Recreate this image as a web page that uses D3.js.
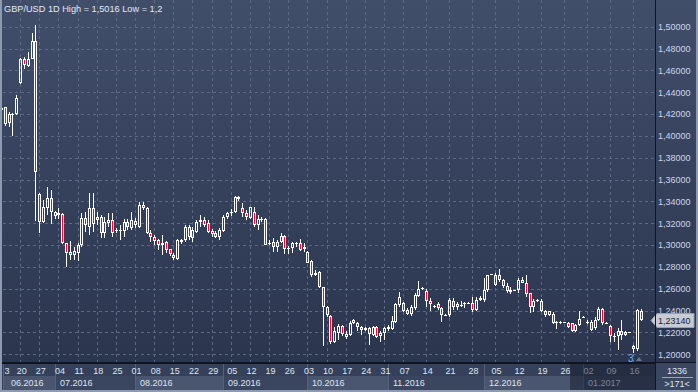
<!DOCTYPE html>
<html>
<head>
<meta charset="utf-8">
<script src="https://cdn.jsdelivr.net/npm/d3@7"></script>
<style>
  html, body { margin: 0; padding: 0; background: #2c3650; }
  svg { display: block; font-family: "Liberation Sans", Arial, sans-serif; }
</style>
</head>
<body>
<script>
// daily GBP/USD candles, [open, high, low, close]
const candles = [
  [1.4235, 1.4265, 1.4225, 1.4258], [1.4262, 1.4268, 1.4091, 1.4109], [1.4116, 1.4222, 1.4085, 1.4198],
  [1.4200, 1.4210, 1.4002, 1.4190], [1.4198, 1.4378, 1.4190, 1.4350], [1.4482, 1.4710, 1.4473, 1.4702],
  [1.4702, 1.4720, 1.4610, 1.4649], [1.4643, 1.4766, 1.4634, 1.4702], [1.4702, 1.4940, 1.4700, 1.4872],
  [1.4872, 1.5016, 1.3224, 1.3673], [1.3469, 1.3475, 1.3115, 1.3216], [1.3216, 1.3414, 1.3201, 1.3347],
  [1.3338, 1.3530, 1.3277, 1.3429], [1.3429, 1.3505, 1.3194, 1.3307], [1.3307, 1.3310, 1.3237, 1.3267],
  [1.3280, 1.3338, 1.3237, 1.3292], [1.3286, 1.3292, 1.3010, 1.3017], [1.3017, 1.3020, 1.2798, 1.2932],
  [1.2941, 1.3042, 1.2865, 1.2907], [1.2907, 1.2987, 1.2865, 1.2950], [1.2932, 1.3017, 1.2850, 1.3002],
  [1.3002, 1.3292, 1.2987, 1.3246], [1.3246, 1.3307, 1.3124, 1.3185], [1.3170, 1.3475, 1.3094, 1.3338],
  [1.3338, 1.3475, 1.3124, 1.3194], [1.3234, 1.3307, 1.3185, 1.3255], [1.3261, 1.3276, 1.3063, 1.3108],
  [1.3108, 1.3261, 1.3063, 1.3215], [1.3206, 1.3291, 1.3170, 1.3230], [1.3230, 1.3291, 1.3078, 1.3108],
  [1.3130, 1.3154, 1.3108, 1.3135], [1.3130, 1.3185, 1.3047, 1.3139], [1.3130, 1.3237, 1.3078, 1.3215],
  [1.3215, 1.3237, 1.3139, 1.3170], [1.3154, 1.3307, 1.3139, 1.3230], [1.3225, 1.3245, 1.3160, 1.3180],
  [1.3170, 1.3395, 1.3160, 1.3368], [1.3368, 1.3398, 1.3322, 1.3337], [1.3337, 1.3350, 1.3100, 1.3108],
  [1.3115, 1.3139, 1.3032, 1.3078], [1.3078, 1.3093, 1.3002, 1.3038], [1.3047, 1.3053, 1.2956, 1.3002],
  [1.3005, 1.3093, 1.2910, 1.3015], [1.3032, 1.3035, 1.2925, 1.2956], [1.2962, 1.2965, 1.2901, 1.2919],
  [1.2910, 1.2925, 1.2865, 1.2880], [1.2870, 1.3053, 1.2865, 1.3047], [1.3032, 1.3060, 1.3010, 1.3047],
  [1.3047, 1.3185, 1.3032, 1.3169], [1.3165, 1.3180, 1.3050, 1.3075], [1.3063, 1.3170, 1.3032, 1.3139],
  [1.3124, 1.3230, 1.3108, 1.3215], [1.3215, 1.3276, 1.3170, 1.3230], [1.3230, 1.3261, 1.3170, 1.3185],
  [1.3200, 1.3230, 1.3108, 1.3124], [1.3130, 1.3145, 1.3078, 1.3100], [1.3110, 1.3128, 1.3063, 1.3078],
  [1.3078, 1.3154, 1.3047, 1.3139], [1.3130, 1.3276, 1.3124, 1.3261], [1.3261, 1.3307, 1.3240, 1.3298],
  [1.3298, 1.3330, 1.3270, 1.3305], [1.3305, 1.3450, 1.3290, 1.3444], [1.3444, 1.3450, 1.3400, 1.3420],
  [1.3337, 1.3383, 1.3261, 1.3291], [1.3291, 1.3322, 1.3230, 1.3261], [1.3246, 1.3353, 1.3240, 1.3346],
  [1.3300, 1.3346, 1.3170, 1.3185], [1.3185, 1.3276, 1.3139, 1.3237], [1.3237, 1.3260, 1.3210, 1.3240],
  [1.3236, 1.3245, 1.3000, 1.3001], [1.3011, 1.3047, 1.3002, 1.3023], [1.3032, 1.3062, 1.2940, 1.2986],
  [1.2986, 1.3047, 1.2940, 1.3032], [1.3032, 1.3115, 1.3017, 1.3084], [1.3084, 1.3093, 1.2919, 1.2962],
  [1.2968, 1.2992, 1.2919, 1.2971], [1.2971, 1.3032, 1.2931, 1.3023], [1.3020, 1.3032, 1.2980, 1.3023],
  [1.3023, 1.3053, 1.2950, 1.2956], [1.2986, 1.3023, 1.2940, 1.2962], [1.2941, 1.2946, 1.2834, 1.2840],
  [1.2858, 1.2864, 1.2712, 1.2727], [1.2727, 1.2773, 1.2718, 1.2749], [1.2758, 1.2764, 1.2610, 1.2614],
  [1.2614, 1.2620, 1.2077, 1.2431], [1.2431, 1.2443, 1.2345, 1.2361], [1.2352, 1.2361, 1.2096, 1.2117],
  [1.2117, 1.2254, 1.2102, 1.2209], [1.2199, 1.2279, 1.2132, 1.2260], [1.2260, 1.2269, 1.2169, 1.2187],
  [1.2163, 1.2209, 1.2139, 1.2187], [1.2178, 1.2309, 1.2169, 1.2291], [1.2291, 1.2325, 1.2280, 1.2315],
  [1.2285, 1.2300, 1.2209, 1.2254], [1.2254, 1.2260, 1.2178, 1.2224], [1.2224, 1.2250, 1.2215, 1.2239],
  [1.2239, 1.2254, 1.2087, 1.2187], [1.2178, 1.2260, 1.2170, 1.2254], [1.2254, 1.2260, 1.2148, 1.2163],
  [1.2169, 1.2209, 1.2117, 1.2199], [1.2193, 1.2248, 1.2132, 1.2239], [1.2230, 1.2270, 1.2209, 1.2254],
  [1.2230, 1.2352, 1.2224, 1.2309], [1.2300, 1.2468, 1.2290, 1.2462], [1.2453, 1.2566, 1.2431, 1.2523],
  [1.2468, 1.2483, 1.2390, 1.2401], [1.2407, 1.2422, 1.2361, 1.2370], [1.2370, 1.2453, 1.2352, 1.2431],
  [1.2422, 1.2560, 1.2410, 1.2544], [1.2535, 1.2675, 1.2529, 1.2596], [1.2600, 1.2620, 1.2590, 1.2605],
  [1.2584, 1.2596, 1.2437, 1.2492], [1.2492, 1.2514, 1.2392, 1.2462], [1.2444, 1.2450, 1.2425, 1.2432],
  [1.2462, 1.2483, 1.2407, 1.2422], [1.2422, 1.2431, 1.2300, 1.2361], [1.2355, 1.2370, 1.2350, 1.2361],
  [1.2361, 1.2514, 1.2346, 1.2498], [1.2492, 1.2514, 1.2407, 1.2431], [1.2431, 1.2483, 1.2407, 1.2462],
  [1.2450, 1.2492, 1.2437, 1.2453], [1.2465, 1.2483, 1.2422, 1.2470], [1.2470, 1.2480, 1.2460, 1.2474],
  [1.2474, 1.2529, 1.2383, 1.2407], [1.2407, 1.2529, 1.2392, 1.2498], [1.2498, 1.2530, 1.2490, 1.2514],
  [1.2498, 1.2697, 1.2483, 1.2590], [1.2590, 1.2727, 1.2575, 1.2727], [1.2727, 1.2736, 1.2725, 1.2734],
  [1.2636, 1.2742, 1.2626, 1.2727], [1.2727, 1.2779, 1.2666, 1.2681], [1.2681, 1.2687, 1.2605, 1.2626],
  [1.2626, 1.2651, 1.2560, 1.2584], [1.2575, 1.2614, 1.2553, 1.2590], [1.2583, 1.2590, 1.2578, 1.2585],
  [1.2590, 1.2697, 1.2560, 1.2681], [1.2681, 1.2712, 1.2650, 1.2657], [1.2657, 1.2727, 1.2529, 1.2550],
  [1.2559, 1.2559, 1.2376, 1.2431], [1.2431, 1.2505, 1.2383, 1.2492], [1.2492, 1.2505, 1.2483, 1.2498],
  [1.2492, 1.2505, 1.2383, 1.2392], [1.2401, 1.2407, 1.2340, 1.2361], [1.2361, 1.2400, 1.2350, 1.2392],
  [1.2370, 1.2383, 1.2279, 1.2291], [1.2291, 1.2309, 1.2230, 1.2294], [1.2285, 1.2305, 1.2280, 1.2297],
  [1.2291, 1.2300, 1.2285, 1.2293], [1.2291, 1.2300, 1.2245, 1.2254], [1.2285, 1.2291, 1.2200, 1.2215],
  [1.2215, 1.2280, 1.2205, 1.2270], [1.2270, 1.2392, 1.2255, 1.2322], [1.2335, 1.2352, 1.2328, 1.2340],
  [1.2290, 1.2310, 1.2280, 1.2292], [1.2300, 1.2310, 1.2209, 1.2224], [1.2239, 1.2346, 1.2218, 1.2315],
  [1.2315, 1.2432, 1.2309, 1.2413], [1.2413, 1.2422, 1.2270, 1.2285], [1.2289, 1.2295, 1.2285, 1.2291],
  [1.2261, 1.2270, 1.2117, 1.2169], [1.2169, 1.2193, 1.2117, 1.2172], [1.2169, 1.2239, 1.2041, 1.2209],
  [1.2178, 1.2315, 1.2132, 1.2209], [1.2200, 1.2210, 1.2170, 1.2178], [1.2198, 1.2202, 1.2195, 1.2200],
  [1.2047, 1.2087, 1.2010, 1.2077], [1.2047, 1.2413, 1.2026, 1.2407], [1.2401, 1.2413, 1.2305, 1.2314]
];

// week ticks: label as shown (first one is cut by the frame) and the candle it sits on
const weekLabels = ["3", "20", "27", "04", "11", "18", "25", "01", "08", "15", "22", "29", "05", "12", "19", "26",
  "03", "10", "17", "24", "31", "07", "14", "21", "28", "05", "12", "19", "26", "02", "09", "16"];
const weekStart = [0, 5, 10, 15, 20, 25, 30, 35, 40, 45, 50, 55, 60, 65, 70, 75,
  80, 85, 90, 95, 100, 105, 111, 117, 123, 129, 135, 141, 147, 153, 159, 165];

const monthLabels = ["06.2016", "07.2016", "08.2016", "09.2016", "10.2016", "11.2016", "12.2016", "01.2017"];
const monthStart = [0, 14, 35, 58, 80, 101, 126, 152];

const priceTicks = [1.20, 1.22, 1.24, 1.26, 1.28, 1.30, 1.32, 1.34, 1.36, 1.38, 1.40, 1.42, 1.44, 1.46, 1.48, 1.50];
const lastPrice = 1.2314;
const title = "GBP/USD 1D High = 1,5016 Low = 1,2";

const width = 698;
const height = 392;
const plotRight = 655;
const plotBottom = 362;
const red = "#ff0033";
const fmt = (v) => v.toFixed(5).replace(".", ",");

const svg = d3
  .select("body")
  .append("svg")
  .attr("width", width)
  .attr("height", height)
  .attr("shape-rendering", "crispEdges");

const grad = svg
  .append("defs")
  .append("linearGradient")
  .attr("id", "bg")
  .attr("x1", 0)
  .attr("y1", 0)
  .attr("x2", 0)
  .attr("y2", 1);
grad.append("stop").attr("offset", "0%").attr("stop-color", "#414e6a");
grad.append("stop").attr("offset", "100%").attr("stop-color", "#29334c");

svg.append("rect").attr("width", width).attr("height", height).attr("fill", "url(#bg)");

const x = d3.scaleLinear().domain([0, candles.length - 1]).range([1, 640.6]);
const y = d3.scaleLinear().domain([1.2, 1.5]).range([354.3, 26.7]);
const px = (i) => Math.round(x(i));

// grid
const grid = svg.append("g").attr("stroke", "#5b6783").attr("stroke-dasharray", "3,3");
grid
  .selectAll("line.h")
  .data(priceTicks)
  .join("line")
  .attr("x1", 3)
  .attr("x2", plotRight)
  .attr("y1", (d) => Math.round(y(d)) + 0.5)
  .attr("y2", (d) => Math.round(y(d)) + 0.5);
grid
  .selectAll("line.v")
  .data(weekStart)
  .join("line")
  .attr("x1", (d) => px(d) + 0.5)
  .attr("x2", (d) => px(d) + 0.5)
  .attr("y1", 0)
  .attr("y2", plotBottom);

// candles: 1px wick, 3px body with white frame and red or hollow core
const candle = svg.append("g").selectAll("g").data(candles).join("g");

candle.each(function (d, i) {
  const el = d3.select(this);
  const [o, h, l, c] = d;
  const cx = px(i);
  const top = Math.round(y(Math.max(o, c)));
  let bot = Math.round(y(Math.min(o, c)));
  if (bot - top < 1) bot = top + 1;
  const yh = Math.round(y(h));
  const yl = Math.max(Math.round(y(l)), bot);
  el.append("rect").attr("x", cx).attr("y", yh).attr("width", 1).attr("height", top - yh).attr("fill", "#fff");
  el.append("rect").attr("x", cx).attr("y", bot).attr("width", 1).attr("height", yl - bot).attr("fill", "#fff");
  const bh = bot - top;
  if (bh < 3) {
    el.append("rect").attr("x", cx - 1).attr("y", top).attr("width", 3).attr("height", bh).attr("fill", "#fff");
  } else {
    el.append("path")
      .attr("d", `M${cx - 1},${top}h3v${bh}h-3Z M${cx},${top + 1}v${bh - 2}h1v${-(bh - 2)}Z`)
      .attr("fill", "#fff")
      .attr("fill-rule", "evenodd");
    if (o > c) {
      el.append("rect").attr("x", cx).attr("y", top + 1).attr("width", 1).attr("height", bh - 2).attr("fill", red);
    }
  }
});

// title
svg.append("text")
  .attr("x", 4)
  .attr("y", 11.5)
  .attr("font-size", 9.2)
  .attr("fill", "#e2e8f2")
  .text(title);

// right price axis
svg.append("rect").attr("x", plotRight).attr("y", 0).attr("width", 1).attr("height", plotBottom).attr("fill", "#10151f");

const yAxis = svg
  .append("g")
  .attr("transform", `translate(${plotRight},0)`)
  .call(d3.axisRight(y).tickValues(priceTicks).tickFormat(fmt).tickSize(0).tickPadding(3));
yAxis.select(".domain").remove();
yAxis.selectAll("text").attr("fill", "#cdd6ea").attr("font-size", 9).attr("font-family", "Liberation Sans, Arial, sans-serif");

// last price tag
const ty = Math.round(y(lastPrice)) + 0.5;
svg.append("path")
  .attr("d", `M651,${ty} L657,${ty - 7} L694,${ty - 7} L694,${ty + 7} L657,${ty + 7} Z`)
  .attr("fill", "#c6cbd4")
  .attr("stroke", "#98a0b0")
  .attr("shape-rendering", "auto");
svg.append("text")
  .attr("x", 658)
  .attr("y", ty + 3.5)
  .attr("font-size", 9)
  .attr("fill", "#1d2331")
  .text(fmt(lastPrice));

// bottom date axis
const axisArea = svg.append("g");
axisArea.append("rect").attr("x", 0).attr("y", plotBottom).attr("width", width).attr("height", height - plotBottom).attr("fill", "#35405a");

const months = axisArea.selectAll("g.month").data(monthLabels).join("g");
months.each(function (m, k) {
  const el = d3.select(this);
  const x0 = k === 0 ? 3 : px(monthStart[k]);
  const x1 = k === monthLabels.length - 1 ? plotRight : px(monthStart[k + 1]);
  el.append("rect")
    .attr("x", x0).attr("y", 376)
    .attr("width", x1 - x0).attr("height", 14)
    .attr("fill", k % 2 === 0 ? "#4a5670" : "#3a4660");
  el.append("line")
    .attr("x1", x0 + 0.5).attr("x2", x0 + 0.5)
    .attr("y1", 363).attr("y2", 390)
    .attr("stroke", "#56627c");
  el.append("text")
    .attr("x", x0 + (k === 0 ? 8 : 5))
    .attr("y", 385.7)
    .attr("font-size", 9)
    .attr("fill", "#dfe5ef")
    .text(m);
});

const xAxis = axisArea
  .append("g")
  .attr("transform", `translate(1,366)`)
  .call(
    d3.axisBottom(x)
      .tickValues(weekStart)
      .tickFormat((d, i) => weekLabels[i])
      .tickSize(0)
      .tickPadding(2)
  );
xAxis.select(".domain").remove();
xAxis.selectAll("text").attr("fill", "#dfe5ef").attr("font-size", 9).attr("font-family", "Liberation Sans, Arial, sans-serif");
xAxis.select(".tick text").attr("text-anchor", "start").attr("x", 2);

axisArea.append("rect").attr("x", 0).attr("y", plotBottom).attr("width", width).attr("height", 1.5).attr("fill", "#0f1420");

// dimmed current-month region
axisArea.append("rect").attr("x", 570).attr("y", 363.5).attr("width", plotRight - 570).attr("height", 26.5).attr("fill", "#141a2a").attr("opacity", 0.5);

// corner box
axisArea.append("rect").attr("x", plotRight).attr("y", 363).attr("width", width - plotRight).attr("height", 29).attr("fill", "#3b4761");
axisArea.append("rect").attr("x", plotRight).attr("y", 0).attr("width", 1).attr("height", height).attr("fill", "#10151f");
axisArea.append("line").attr("x1", 662).attr("x2", 693).attr("y1", 377.5).attr("y2", 377.5).attr("stroke", "#9aa5b8");
axisArea.append("text").attr("x", 677).attr("y", 374).attr("text-anchor", "middle").attr("font-size", 9).attr("fill", "#dfe5ef").text("1336");
axisArea.append("text").attr("x", 677).attr("y", 387).attr("text-anchor", "middle").attr("font-size", 9).attr("fill", "#dfe5ef").text(">171<");

// marker near the last bars
svg.append("text").attr("x", 628).attr("y", 361.5).attr("font-size", 10).attr("fill", "#62aef8").text("3");
svg.append("path").attr("d", "M636,361 L639,357 L642,361 Z").attr("fill", "#6b7791").attr("shape-rendering", "auto");

// outer frame
svg.append("rect").attr("x", 0).attr("y", 0).attr("width", 2).attr("height", height).attr("fill", "#8e9ab0");
svg.append("rect").attr("x", width - 2).attr("y", 0).attr("width", 2).attr("height", height).attr("fill", "#8e9ab0");
svg.append("rect").attr("x", 0).attr("y", height - 2).attr("width", width).attr("height", 2).attr("fill", "#8e9ab0");
</script>
</body>
</html>
